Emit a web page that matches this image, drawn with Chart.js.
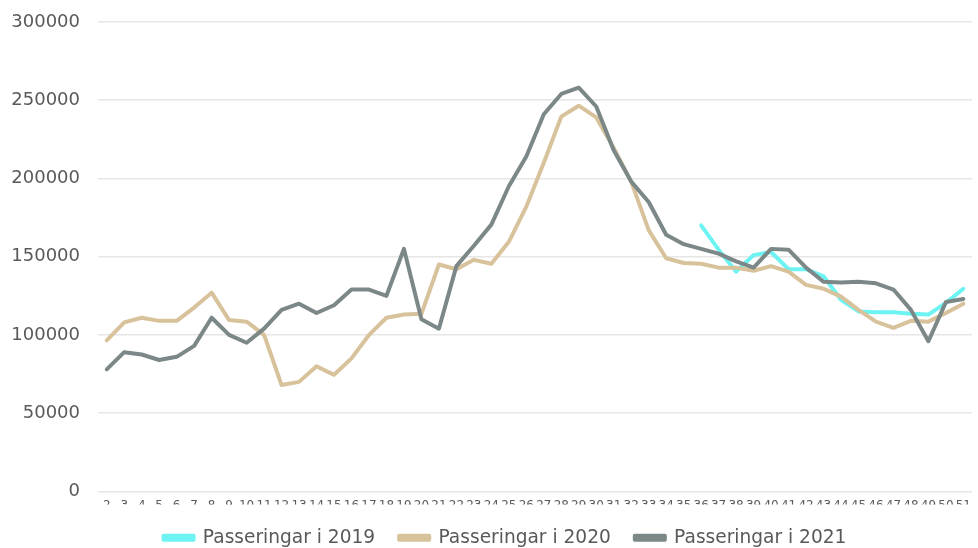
<!DOCTYPE html>
<html>
<head>
<meta charset="utf-8">
<script src="https://cdn.jsdelivr.net/npm/chart.js@4.4.0/dist/chart.umd.min.js"></script>
<style>
  html, body { margin: 0; padding: 0; background: #fff; }
  #wrap { width: 978px; height: 548px; }
</style>
</head>
<body>
<div id="wrap"><canvas id="chart"></canvas></div>
<script>
// week numbers on the x axis
const weeks = ["2", "3", "4", "5", "6", "7", "8", "9", "10", "11", "12", "13", "14", "15", "16", "17", "18", "19", "20", "21",
  "22", "23", "24", "25", "26", "27", "28", "29", "30", "31", "32", "33", "34", "35", "36", "37", "38", "39", "40", "41",
  "42", "43", "44", "45", "46", "47", "48", "49", "50", "51"];

// 2019 only has data from week 36
const pass2019 = [null, null, null, null, null, null, null, null, null, null, null, null, null, null, null, null, null, null, null, null,
  null, null, null, null, null, null, null, null, null, null, null, null, null, null, 170000, 154500, 140500, 151000, 153000, 142000,
  142000, 137500, 122500, 115000, 114500, 114500, 113500, 113000, 120500, 129500];

const pass2020 = [96500, 108000, 111000, 109000, 109000, 117500, 127000, 109500, 108500, 100000, 68000, 70000, 80000, 74500, 85000, 100000, 111000, 113000, 113500, 145000,
  142000, 148000, 145500, 159500, 182000, 210000, 239500, 246500, 239000, 219500, 198000, 167000, 149000, 146000, 145500, 143000, 143000, 141000, 144000, 140500,
  132000, 129500, 124500, 116000, 108500, 104500, 109000, 108500, 114000, 120000];

const pass2021 = [78000, 89000, 87500, 84000, 86000, 93000, 111000, 100000, 95000, 104000, 116000, 120000, 114000, 119000, 129000, 129000, 125000, 155000, 110000, 104000,
  144000, 157000, 170500, 195000, 214000, 241000, 254000, 258000, 246000, 218000, 198000, 185000, 164000, 158000, 155000, 152000, 147000, 143000, 155000, 154500,
  143000, 134000, 133500, 134000, 133000, 129000, 116000, 96000, 121000, 123000];

const yTicks = [0, 50000, 100000, 150000, 200000, 250000, 300000];

const txt = "#595959";
const font = "'DejaVu Sans', Verdana, sans-serif";

// nudge the legend a little to the right, like the original
const shiftLegend = {
  id: "shiftLegend",
  afterLayout(chart) {
    chart.legend.left += 10;
    chart.legend.right += 10;
  },
};

new Chart(document.getElementById("chart"), {
  type: "line",
  data: {
    labels: weeks,
    datasets: [
      { label: "Passeringar i 2019", data: pass2019, borderColor: "#6cf3f2", backgroundColor: "#6cf3f2", order: 2 },
      { label: "Passeringar i 2020", data: pass2020, borderColor: "#d8c29b", backgroundColor: "#d8c29b", order: 1 },
      { label: "Passeringar i 2021", data: pass2021, borderColor: "#7c8888", backgroundColor: "#7c8888", order: 0 },
    ],
  },
  plugins: [shiftLegend],
  options: {
    responsive: true,
    maintainAspectRatio: false,
    animation: false,
    layout: { padding: { top: 22, left: 0, right: -12, bottom: -9 } },
    elements: {
      line: { borderWidth: 4, tension: 0, borderCapStyle: "round", borderJoinStyle: "round" },
      point: { radius: 0 },
    },
    plugins: {
      tooltip: { enabled: false },
      legend: {
        position: "bottom",
        labels: {
          boxWidth: 30,
          boxHeight: 4,
          padding: 24,
          color: txt,
          font: { family: font, size: 18.6 },
          sort: (a, b) => a.datasetIndex - b.datasetIndex,
        },
      },
    },
    scales: {
      x: {
        offset: true,
        afterFit: (s) => { s.height = 13; },
        grid: { display: false, drawTicks: false },
        border: { display: false },
        ticks: { autoSkip: false, maxRotation: 0, padding: 7, color: txt, font: { family: font, size: 12 } },
      },
      y: {
        min: 0,
        max: 300000,
        afterFit: (s) => { s.width = 98; s.paddingTop = 11; s.paddingBottom = 11; },
        afterBuildTicks: (s) => { s.ticks = yTicks.map((v) => ({ value: v })); },
        grid: { color: "#e6e6e6", lineWidth: 1.5, drawTicks: false },
        border: { display: false },
        ticks: { padding: 18, color: txt, font: { family: font, size: 18 }, callback: (v) => String(v) },
      },
    },
  },
});
</script>
</body>
</html>
